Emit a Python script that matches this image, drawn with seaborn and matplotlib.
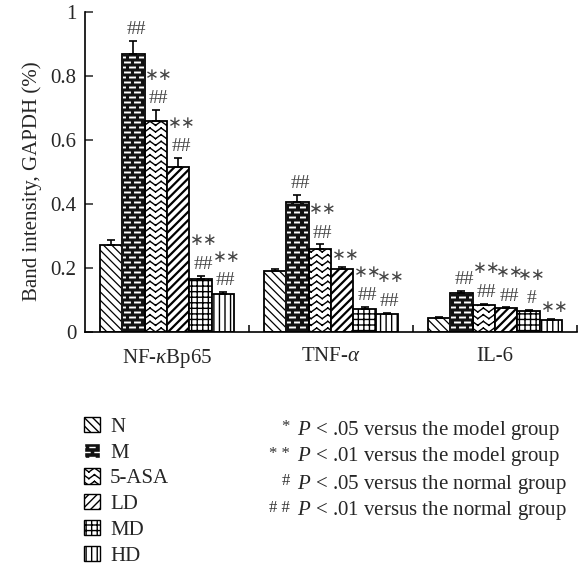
import warnings
warnings.filterwarnings("ignore")
import numpy as np
import pandas as pd
import matplotlib
matplotlib.use("Agg")
import matplotlib.pyplot as plt
from matplotlib import hatch as mhatch
from matplotlib.path import Path
from matplotlib.patches import Rectangle, Patch
import seaborn as sns

# ---------------- data ----------------
categories = ["NF-κBp65", "TNF-α", "IL-6"]
cat_labels = [r"NF-$\mathit{\kappa}$Bp65", r"TNF-$\mathit{\alpha}$", "IL-6"]
groups = ["N", "M", "5-ASA", "LD", "MD", "HD"]
values = {
    "N":     [0.272, 0.190, 0.044],
    "M":     [0.869, 0.406, 0.123],
    "5-ASA": [0.659, 0.259, 0.084],
    "LD":    [0.516, 0.197, 0.074],
    "MD":    [0.166, 0.072, 0.065],
    "HD":    [0.119, 0.056, 0.038],
}
errors = {
    "N":     [0.015, 0.008, 0.002],
    "M":     [0.040, 0.022, 0.005],
    "5-ASA": [0.035, 0.015, 0.004],
    "LD":    [0.028, 0.007, 0.003],
    "MD":    [0.010, 0.006, 0.003],
    "HD":    [0.006, 0.004, 0.002],
}
stars = {
    "N": ["", "", ""], "M": ["", "", ""],
    "5-ASA": ["∗∗", "∗∗", "∗∗"], "LD": ["∗∗", "∗∗", "∗∗"],
    "MD": ["∗∗", "∗∗", "∗∗"], "HD": ["∗∗", "∗∗", "∗∗"],
}
hashes = {
    "N": ["", "", ""], "M": ["##", "##", "##"],
    "5-ASA": ["##", "##", "##"], "LD": ["##", "", "##"],
    "MD": ["##", "##", "#"], "HD": ["##", "##", ""],
}
yticks = [0, 0.2, 0.4, 0.6, 0.8, 1]
ytick_labels = ["0", "0.2", "0.4", "0.6", "0.8", "1"]
note_marks = ["*", "* *", "#", "# #"]
note_texts = [r"$P$ < .05 versus the model group",
              r"$P$ < .01 versus the model group",
              r"$P$ < .05 versus the normal group",
              r"$P$ < .01 versus the normal group"]

# ------------- custom hatches -------------
class ZigZagHatch(mhatch.HatchPatternBase):
    """Horizontal zig-zag lines, each leg a separate sub-path (no fill)."""
    def __init__(self, hatch, density):
        n = hatch.count('~')
        self.num_rows = int(round(n * density * 2.5)) if n else 0
        self.num_cols = 9
        self.nseg = 2 * self.num_cols
        self.num_vertices = self.num_rows * self.nseg * 2
        self.filled = False

    def set_vertices_and_codes(self, vertices, codes):
        if not self.num_rows:
            return
        xs = np.linspace(0, 1, self.nseg + 1)
        offs = np.where(np.arange(self.nseg + 1) % 2 == 0, -0.02, 0.02)
        i = 0
        for r in range(self.num_rows):
            y = (r + 0.5) / self.num_rows
            for k in range(self.nseg):
                vertices[i] = (xs[k], y + offs[k])
                vertices[i + 1] = (xs[k + 1], y + offs[k + 1])
                codes[i] = Path.MOVETO
                codes[i + 1] = Path.LINETO
                i += 2


class DashHatch(mhatch.HatchPatternBase):
    """Staggered short horizontal dashes."""
    def __init__(self, hatch, density):
        n = hatch.count('m')
        self.num_rows = 20 if n else 0
        self.num_cols = 10
        self.num_vertices = self.num_rows * self.num_cols * 2
        self.filled = False

    def set_vertices_and_codes(self, vertices, codes):
        if not self.num_rows:
            return
        i = 0
        period = 1.0 / self.num_cols
        dash = period * 0.5
        for r in range(self.num_rows):
            y = (r + 0.5) / self.num_rows
            shift = 0.0 if r % 2 == 0 else period / 2
            for c in range(self.num_cols):
                x0 = c * period + shift
                vertices[i] = (x0, y)
                vertices[i + 1] = (x0 + dash, y)
                codes[i] = Path.MOVETO
                codes[i + 1] = Path.LINETO
                i += 2


mhatch._hatch_types.append(ZigZagHatch)
mhatch._hatch_types.append(DashHatch)

# ------------- styling -------------
sns.set_theme(style="ticks")
plt.rcParams["font.family"] = ["Liberation Serif", "DejaVu Serif"]
plt.rcParams["mathtext.fontset"] = "custom"
plt.rcParams["mathtext.rm"] = "Liberation Serif"
plt.rcParams["mathtext.it"] = "Liberation Serif:italic"
plt.rcParams["hatch.linewidth"] = 1.0

FS = 15

df = pd.DataFrame(
    [(c, g, values[g][i]) for g in groups for i, c in enumerate(categories)],
    columns=["cat", "group", "value"],
)

fig = plt.figure(figsize=(5.79, 5.69), dpi=100)
ax = fig.add_axes([85 / 579, 1 - 332 / 569, 492 / 579, 320 / 569])

sns.barplot(data=df, x="cat", y="value", hue="group", order=categories,
            hue_order=groups, width=0.82, gap=0, errorbar=None,
            legend=False, ax=ax, saturation=1)

hatch_map = {"N": "\\\\\\\\", "M": "m", "5-ASA": "~", "LD": "////",
             "MD": "+++", "HD": "|||"}
hatch_lw = {"N": 0.9, "M": 1.4, "5-ASA": 1.0, "LD": 1.6, "MD": 1.0, "HD": 1.0}

for g, cont in zip(groups, ax.containers):
    for j, p in enumerate(cont.patches):
        p.set_hatch(hatch_map[g])
        if hasattr(p, "set_hatch_linewidth"):
            p.set_hatch_linewidth(hatch_lw[g])
        p.set_linewidth(1.3)
        if g == "M":
            p.set_facecolor("#111111")
            if hasattr(p, "set_hatchcolor"):
                p.set_edgecolor("black")
                p.set_hatchcolor("white")
            else:
                p.set_edgecolor("white")
                ax.add_patch(Rectangle(p.get_xy(), p.get_width(), p.get_height(),
                                       fill=False, ec="black", lw=1.3,
                                       zorder=p.get_zorder() + 0.1))
        else:
            p.set_facecolor("white")
            p.set_edgecolor("black")
        xc = p.get_x() + p.get_width() / 2
        h = p.get_height()
        e = errors[g][j]
        ax.errorbar([xc], [h], yerr=[[0], [e]], fmt="none", ecolor="black",
                    elinewidth=1.2, capsize=3, capthick=1.2, zorder=3)
        top = h + e
        hs = hashes[g][j]
        st = stars[g][j]
        off = 2
        if hs:
            ax.annotate(hs, (xc, top), xytext=(2, off), textcoords="offset points",
                        ha="center", va="bottom", fontsize=14, color="#444444",
                        family=["Liberation Serif"])
            off += 17
        if st:
            ax.annotate(st, (xc, top), xytext=(2.5, off), textcoords="offset points",
                        ha="center", va="bottom", fontsize=12, color="#444444",
                        family=["DejaVu Sans"])

ax.set_xlim(-0.5, 2.5)
ax.set_ylim(0, 1)
ax.set_yticks(yticks)
ax.set_yticklabels(ytick_labels, fontsize=FS)
ax.set_xticks(range(len(categories)))
ax.set_xticklabels(cat_labels, fontsize=FS)
ax.set_xticks([0.5, 1.5, 2.5], minor=True)
ax.tick_params(axis="x", which="major", length=0, pad=11)
ax.tick_params(axis="x", which="minor", direction="in", length=5, width=1.1, color="black")
ax.tick_params(axis="y", direction="in", length=6, width=1.1, pad=6)
ax.set_xlabel("")
ax.set_ylabel("Band intensity, GAPDH (%)", fontsize=FS)
ax.yaxis.set_label_coords(-0.088, 0.47)
for s in ["top", "right"]:
    ax.spines[s].set_visible(False)
for s in ["left", "bottom"]:
    ax.spines[s].set_linewidth(1.2)
    ax.spines[s].set_color("black")

# group legend
handles = []
for g in groups:
    kw = dict(hatch=hatch_map[g], label=g, linewidth=1.0)
    if g == "M":
        kw.update(facecolor="#111111", edgecolor="white")
    else:
        kw.update(facecolor="white", edgecolor="black")
    handles.append(Patch(**kw))
fig.legend(handles=handles, loc="upper left", bbox_to_anchor=(84 / 579, 1 - 417 / 569),
           frameon=False, fontsize=FS, handlelength=0.75, handleheight=0.75,
           handletextpad=0.5, labelspacing=0.28, borderaxespad=0, borderpad=0)

# significance notes
for k, (m, t) in enumerate(zip(note_marks, note_texts)):
    y = 1 - (430 + k * 27) / 569
    fig.text(290 / 579, y + 0.006, m, ha="right", va="center", fontsize=12, color="#333333")
    fig.text(297 / 579, y, t, ha="left", va="center", fontsize=FS)

fig.savefig("out.png", dpi=100)
